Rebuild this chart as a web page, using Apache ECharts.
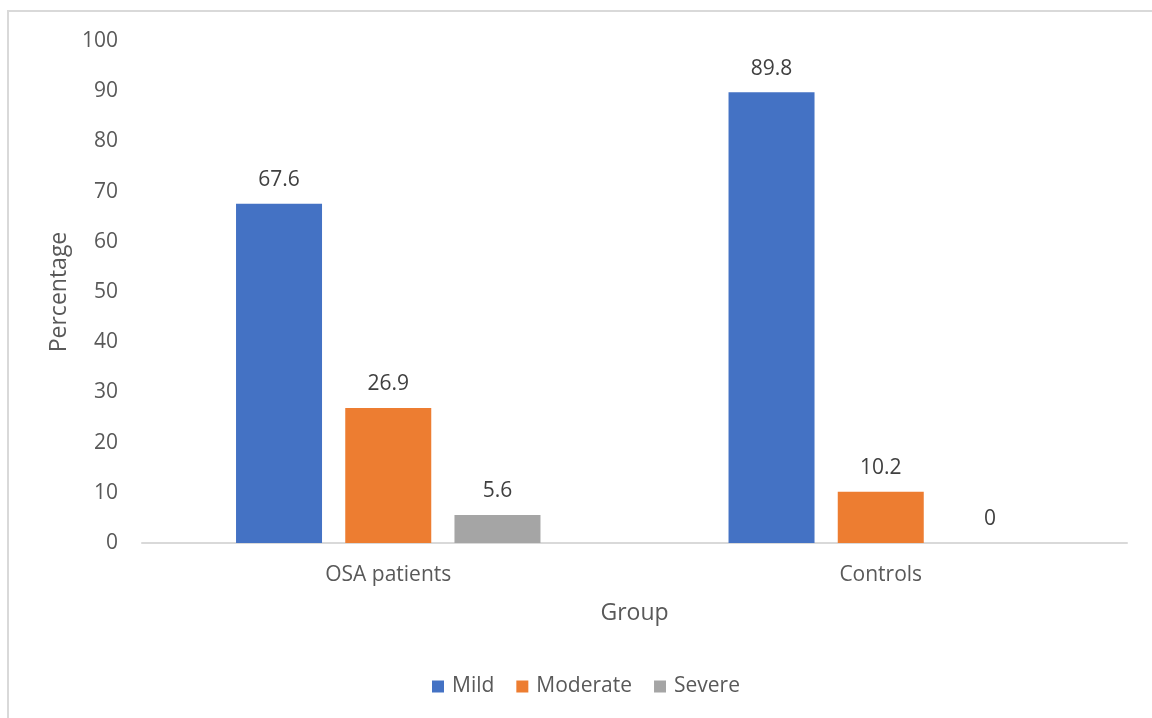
<!DOCTYPE html>
<html>
<head>
<meta charset="utf-8">
<script src="https://cdn.jsdelivr.net/npm/echarts@6/dist/echarts.min.js"></script>
<style>
  html, body { margin: 0; padding: 0; background: #ffffff; }
  #chart { width: 1152px; height: 718px; }
</style>
</head>
<body>
<div id="chart"></div>
<script>
// Severity distribution by group
const groups = ['OSA patients', 'Controls'];
const mild = [67.6, 89.8];
const moderate = [26.9, 10.2];
const severe = [5.6, 0];
const seriesNames = ['Mild', 'Moderate', 'Severe'];
const seriesColors = ['#4472C4', '#ED7D31', '#A5A5A5'];

const FONT = '"Open Sans", Lato, sans-serif';
const chart = echarts.init(document.getElementById('chart'), null, { renderer: 'canvas' });

const values = [mild, moderate, severe];
const series = seriesNames.map((name, i) => ({
  name: name,
  type: 'bar',
  data: values[i],
  barWidth: 86,
  barGap: '27%',
  itemStyle: { color: seriesColors[i] },
  label: {
    show: true,
    position: 'top',
    distance: 13,
    color: '#404040',
    fontSize: 21,
    fontFamily: FONT
  }
}));

chart.setOption({
  backgroundColor: '#ffffff',
  animation: false,
  graphic: [{
    type: 'rect',
    shape: { x: 8, y: 11, width: 1300, height: 900 },
    style: { fill: 'none', stroke: '#d9d9d9', lineWidth: 2 },
    silent: true
  }],
  legend: {
    data: seriesNames,
    bottom: 16,
    left: 427,
    itemWidth: 12,
    itemHeight: 12,
    itemGap: 22,
    icon: 'rect',
    textStyle: { color: '#595959', fontSize: 21, fontFamily: FONT, padding: [0, 0, 0, 3] }
  },
  grid: { left: 142, right: 25, top: 41, bottom: 175 },
  xAxis: {
    type: 'category',
    data: groups,
    name: 'Group',
    nameLocation: 'middle',
    nameGap: 59,
    nameTextStyle: { color: '#595959', fontSize: 23, fontFamily: FONT },
    axisLine: { lineStyle: { color: '#d9d9d9', width: 2 } },
    axisTick: { show: false },
    axisLabel: { color: '#595959', fontSize: 21, fontFamily: FONT, margin: 22 }
  },
  yAxis: {
    type: 'value',
    min: 0,
    max: 100,
    interval: 10,
    name: 'Percentage',
    nameLocation: 'middle',
    nameGap: 71,
    nameTextStyle: { color: '#595959', fontSize: 23, fontFamily: FONT },
    axisLine: { show: false },
    axisTick: { show: false },
    splitLine: { show: false },
    axisLabel: { color: '#595959', fontSize: 21, fontFamily: FONT, margin: 24 }
  },
  series: series
});
</script>
</body>
</html>
